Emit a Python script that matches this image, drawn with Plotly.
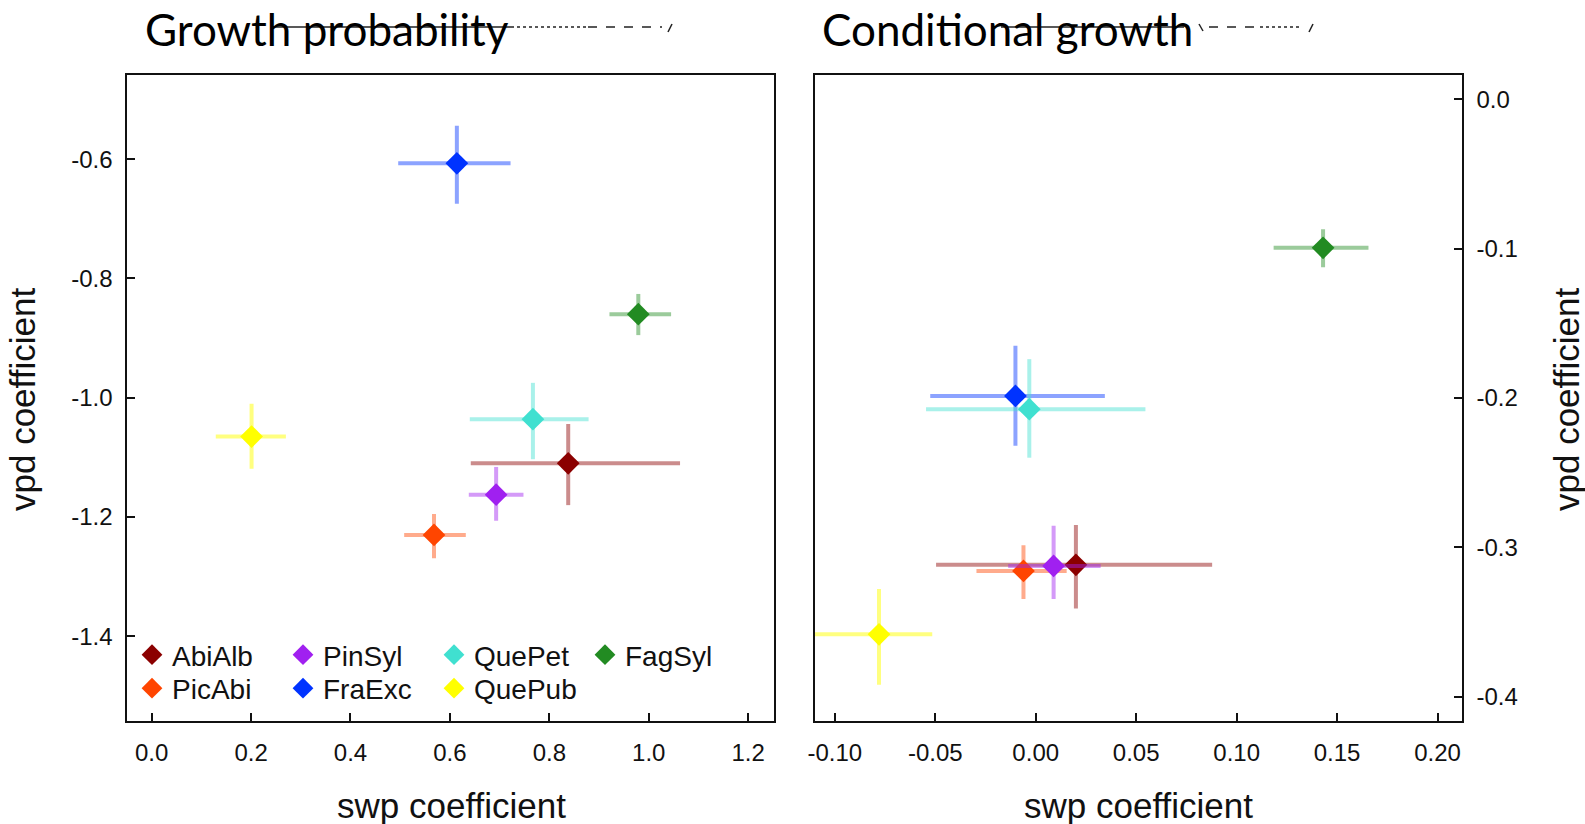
import plotly.graph_objects as go

W, H = 1585, 824

# ---------------- data ----------------
species = ["AbiAlb", "PicAbi", "PinSyl", "FraExc", "QuePet", "QuePub", "FagSyl"]
colors = ["#8B0000", "#FF4500", "#A020F0", "#0033FF", "#40E0D0", "#FFFF00", "#228B22"]
bar_colors = ["rgba(139,0,0,0.45)", "rgba(255,69,0,0.45)", "rgba(160,32,240,0.45)",
              "rgba(0,51,255,0.45)", "rgba(64,224,208,0.45)", "rgba(255,255,0,0.5)",
              "rgba(34,139,34,0.45)"]
legend_row = [1, 2, 1, 2, 1, 2, 1]

# Growth probability panel
gp_swp = [0.838, 0.568, 0.693, 0.614, 0.767, 0.201, 0.979]
gp_swp_lo = [0.642, 0.508, 0.638, 0.496, 0.640, 0.129, 0.921]
gp_swp_hi = [1.063, 0.632, 0.748, 0.722, 0.879, 0.270, 1.045]
gp_vpd = [-1.110, -1.230, -1.1625, -0.607, -1.036, -1.065, -0.860]
gp_vpd_lo = [-1.180, -1.269, -1.206, -0.675, -1.103, -1.119, -0.895]
gp_vpd_hi = [-1.044, -1.195, -1.116, -0.544, -0.975, -1.010, -0.826]

# Conditional growth panel
cg_swp = [0.020, -0.0061, 0.0089, -0.0101, -0.0032, -0.078, 0.143]
cg_swp_lo = [-0.0496, -0.0295, -0.0137, -0.0525, -0.0546, -0.115, 0.1184]
cg_swp_hi = [0.0878, 0.0154, 0.0323, 0.0344, 0.0546, -0.0515, 0.1656]
cg_vpd = [-0.3117, -0.3158, -0.3125, -0.1986, -0.2075, -0.3583, -0.0994]
cg_vpd_lo = [-0.341, -0.3347, -0.3347, -0.232, -0.240, -0.392, -0.1125]
cg_vpd_hi = [-0.285, -0.2986, -0.2856, -0.165, -0.174, -0.328, -0.087]

# tick labels
gp_xticks = [0.0, 0.2, 0.4, 0.6, 0.8, 1.0, 1.2]
gp_xtext = ["0.0", "0.2", "0.4", "0.6", "0.8", "1.0", "1.2"]
gp_yticks = [-1.4, -1.2, -1.0, -0.8, -0.6]
gp_ytext = ["-1.4", "-1.2", "-1.0", "-0.8", "-0.6"]
cg_xticks = [-0.10, -0.05, 0.00, 0.05, 0.10, 0.15, 0.20]
cg_xtext = ["-0.10", "-0.05", "0.00", "0.05", "0.10", "0.15", "0.20"]
cg_yticks = [-0.4, -0.3, -0.2, -0.1, 0.0]
cg_ytext = ["-0.4", "-0.3", "-0.2", "-0.1", "0.0"]

titles = ["Growth probability", "Conditional growth"]
xlabel = "swp coefficient"
ylabel = "vpd coefficient"

# ---------------- figure ----------------
def px(x):
    return x / W

def py(y):
    return 1 - y / H

TICKFONT = dict(family="Liberation Sans, Arial", size=24, color="#111")
LABFONT = dict(family="Liberation Sans, Arial", size=35, color="#111")
LEGFONT = dict(family="Liberation Sans, Arial", size=28, color="#111")

fig = go.Figure()

for i, sp in enumerate(species):
    # left panel
    fig.add_trace(go.Scatter(
        x=[gp_swp[i]], y=[gp_vpd[i]], mode="markers", name=sp,
        legendgroup=sp, showlegend=True,
        legend="legend" if legend_row[i] == 1 else "legend2",
        marker=dict(symbol="diamond", size=17.5, color=colors[i], line=dict(width=0)),
        error_x=dict(type="data", symmetric=False,
                     array=[gp_swp_hi[i] - gp_swp[i]], arrayminus=[gp_swp[i] - gp_swp_lo[i]],
                     color=bar_colors[i], thickness=4, width=0),
        error_y=dict(type="data", symmetric=False,
                     array=[gp_vpd_hi[i] - gp_vpd[i]], arrayminus=[gp_vpd[i] - gp_vpd_lo[i]],
                     color=bar_colors[i], thickness=4, width=0),
        xaxis="x", yaxis="y",
    ))
    # right panel
    fig.add_trace(go.Scatter(
        x=[cg_swp[i]], y=[cg_vpd[i]], mode="markers", name=sp,
        legendgroup=sp, showlegend=False,
        marker=dict(symbol="diamond", size=17.5, color=colors[i], line=dict(width=0)),
        error_x=dict(type="data", symmetric=False,
                     array=[cg_swp_hi[i] - cg_swp[i]], arrayminus=[cg_swp[i] - cg_swp_lo[i]],
                     color=bar_colors[i], thickness=4, width=0),
        error_y=dict(type="data", symmetric=False,
                     array=[cg_vpd_hi[i] - cg_vpd[i]], arrayminus=[cg_vpd[i] - cg_vpd_lo[i]],
                     color=bar_colors[i], thickness=4, width=0),
        xaxis="x2", yaxis="y2",
    ))

ydom = [py(720.5), py(75)]
axcommon = dict(showgrid=False, zeroline=False, showline=True, linecolor="#111", linewidth=2,
                mirror=True, ticks="inside", ticklen=8, tickwidth=1.5, tickcolor="#111",
                tickfont=TICKFONT, tickmode="array", automargin=False)

legcommon = dict(orientation="h", x=px(132), xanchor="left", yanchor="middle",
                 bgcolor="rgba(0,0,0,0)", font=LEGFONT, entrywidth=106, entrywidthmode="pixels",
                 itemclick=False, itemdoubleclick=False)

fig.update_layout(
    width=W, height=H,
    margin=dict(l=0, r=0, t=0, b=0, autoexpand=False),
    paper_bgcolor="white", plot_bgcolor="white",
    xaxis=dict(domain=[px(127.3), px(774)], range=[-0.049, 1.252], anchor="y",
               tickvals=gp_xticks, ticktext=gp_xtext, ticklabelstandoff=10, **axcommon),
    yaxis=dict(domain=ydom, range=[-1.541, -0.459], anchor="x",
               tickvals=gp_yticks, ticktext=gp_ytext, ticklabelstandoff=8, **axcommon),
    xaxis2=dict(domain=[px(814.7), px(1461.7)], range=[-0.110, 0.212], anchor="y2",
                tickvals=cg_xticks, ticktext=cg_xtext, ticklabelstandoff=10, **axcommon),
    yaxis2=dict(domain=ydom, range=[-0.416, 0.0163], anchor="x2", side="right",
                tickvals=cg_yticks, ticktext=cg_ytext, ticklabelstandoff=8, **axcommon),
    legend=dict(y=py(655), **legcommon),
    legend2=dict(y=py(688.5), **legcommon),
    showlegend=True,
)

annotations = [
    dict(text=titles[0], x=px(143), y=py(29), xanchor="left", yanchor="middle",
         font=dict(family="Lato, Open Sans", size=44, color="#000")),
    dict(text=titles[1], x=px(820), y=py(29), xanchor="left", yanchor="middle",
         font=dict(family="Lato, Open Sans", size=44, color="#000")),
    dict(text=xlabel, x=px(451), y=py(805), xanchor="center", yanchor="middle", font=LABFONT),
    dict(text=xlabel, x=px(1138), y=py(805), xanchor="center", yanchor="middle", font=LABFONT),
    dict(text=ylabel, x=px(22), y=py(400), xanchor="center", yanchor="middle", textangle=-90, font=LABFONT),
    dict(text=ylabel, x=px(1566), y=py(400), xanchor="center", yanchor="middle", textangle=-90, font=LABFONT),
]
for a in annotations:
    a.update(xref="paper", yref="paper", showarrow=False)
fig.update_layout(annotations=annotations)

# stray strike-through / dash artifacts next to the panel titles
shapes = []
def seg(x0, x1, y, dash="solid", w=1.5):
    shapes.append(dict(type="line", xref="paper", yref="paper", x0=px(x0), x1=px(x1),
                       y0=py(y), y1=py(y), line=dict(color="#222", width=w, dash=dash)))
seg(274, 511, 27)
seg(511, 588, 27, "dot")
seg(588, 662, 27, "dash")
shapes.append(dict(type="line", xref="paper", yref="paper", x0=px(668), x1=px(672),
                   y0=py(32), y1=py(24), line=dict(color="#222", width=1.5)))
seg(1001, 1184, 27)
shapes.append(dict(type="line", xref="paper", yref="paper", x0=px(1199), x1=px(1203),
                   y0=py(24), y1=py(31), line=dict(color="#222", width=1.5)))
seg(1209, 1258, 27, "dash")
seg(1260, 1300, 27, "dot")
shapes.append(dict(type="line", xref="paper", yref="paper", x0=px(1309), x1=px(1313),
                   y0=py(32), y1=py(24), line=dict(color="#222", width=1.5)))
fig.update_layout(shapes=shapes)

fig.write_html("out.html")
